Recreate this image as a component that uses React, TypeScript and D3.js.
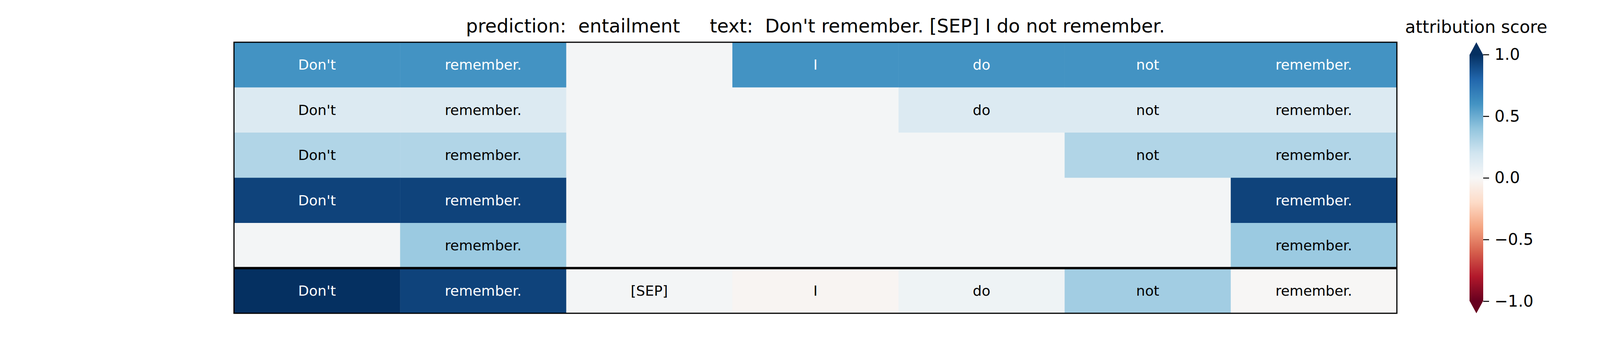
import { useEffect, useRef } from "react";
import * as d3 from "d3";

const TOKENS = ["Don't", "remember.", "[SEP]", "I", "do", "not", "remember."];
// per row: which tokens are shown (blank cells have no text) and their scores
const ROW_SHOWN: boolean[][] = [
  [true, true, false, true, true, true, true],
  [true, true, false, false, true, true, true],
  [true, true, false, false, false, true, true],
  [true, true, false, false, false, false, true],
  [false, true, false, false, false, false, true],
  [true, true, true, true, true, true, true],
];
const ROW_SCORES: number[][] = [
  [0.6, 0.6, 0.02, 0.6, 0.6, 0.6, 0.6],
  [0.14, 0.14, 0.02, 0.02, 0.14, 0.14, 0.14],
  [0.3, 0.3, 0.02, 0.02, 0.02, 0.3, 0.3],
  [0.93, 0.93, 0.02, 0.02, 0.02, 0.02, 0.93],
  [0.02, 0.37, 0.02, 0.02, 0.02, 0.02, 0.37],
  [1.0, 0.93, 0.02, -0.02, 0.05, 0.35, -0.01],
];
const CB_TICKS = [1.0, 0.5, 0.0, -0.5, -1.0];
const TITLE = "prediction:  entailment     text:  Don't remember. [SEP] I do not remember.";
// matplotlib RdBu anchor colours, from -1 to 1
const RDBU = ["#67001f", "#b2182b", "#d6604d", "#f4a582", "#fddbc7", "#f7f7f7",
  "#d1e5f0", "#92c5de", "#4393c3", "#2166ac", "#053061"];

const W = 4800;
const H = 900;
const FONT = "DejaVu Sans";

export default function App() {
  const ref = useRef<SVGSVGElement | null>(null);

  useEffect(() => {
    const svg = d3.select(ref.current);
    svg.selectAll("*").remove();
    const left = 599, right = 3576, top = 108, bottom = 801;
    const color = d3.scaleLinear<string>()
      .domain(d3.range(RDBU.length).map((i) => -1 + (2 * i) / (RDBU.length - 1)))
      .range(RDBU)
      .interpolate(d3.interpolateRgb)
      .clamp(true);

    const x = d3.scaleBand<number>().domain(d3.range(TOKENS.length)).range([left, right]);
    const y = d3.scaleBand<number>().domain(d3.range(ROW_SCORES.length)).range([top, bottom]);

    const cells = ROW_SCORES.flatMap((row, r) =>
      row.map((v, c) => ({ r, c, v, shown: ROW_SHOWN[r][c] })),
    );
    const g = svg.append("g");
    g.selectAll("rect.cell")
      .data(cells)
      .join("rect")
      .attr("x", (d) => x(d.c)!)
      .attr("y", (d) => y(d.r)!)
      .attr("width", x.bandwidth() + 0.5)
      .attr("height", y.bandwidth() + 0.5)
      .attr("fill", (d) => color(d.v));
    g.selectAll("text.cell")
      .data(cells.filter((d) => d.shown))
      .join("text")
      .attr("x", (d) => x(d.c)! + x.bandwidth() / 2)
      .attr("y", (d) => y(d.r)! + y.bandwidth() / 2)
      .attr("text-anchor", "middle")
      .attr("dominant-baseline", "central")
      .attr("font-family", FONT)
      .attr("font-size", 36)
      .attr("fill", (d) => (Math.abs(d.v) > 0.5 ? "#fff" : "#000"))
      .text((d) => TOKENS[d.c]);

    // frame + separator above the final row
    g.append("rect")
      .attr("x", left).attr("y", top)
      .attr("width", right - left).attr("height", bottom - top)
      .attr("fill", "none").attr("stroke", "#000").attr("stroke-width", 3);
    const sepY = y(ROW_SCORES.length - 1)!;
    g.append("line")
      .attr("x1", left).attr("x2", right).attr("y1", sepY).attr("y2", sepY)
      .attr("stroke", "#000").attr("stroke-width", 6);

    svg.append("text")
      .attr("x", (left + right) / 2).attr("y", 83)
      .attr("text-anchor", "middle").attr("font-family", FONT).attr("font-size", 48)
      .attr("xml:space", "preserve").style("white-space", "pre")
      .text(TITLE);

    // colorbar
    const cbL = 3762, cbR = 3797, cbT = 139.5, cbB = 770;
    const cy = d3.scaleLinear().domain([1, -1]).range([cbT, cbB]);
    const grad = svg.append("defs").append("linearGradient")
      .attr("id", "cb").attr("x1", 0).attr("x2", 0).attr("y1", 0).attr("y2", 1);
    d3.range(0, 1.0001, 0.05).forEach((t) =>
      grad.append("stop").attr("offset", t).attr("stop-color", color(1 - 2 * t)),
    );
    svg.append("rect")
      .attr("x", cbL).attr("y", cbT).attr("width", cbR - cbL).attr("height", cbB - cbT)
      .attr("fill", "url(#cb)");
    const cx = (cbL + cbR) / 2;
    svg.append("path")
      .attr("d", `M${cbL},${cbT + 1}L${cx},108L${cbR},${cbT + 1}Z`).attr("fill", color(1));
    svg.append("path")
      .attr("d", `M${cbL},${cbB - 1}L${cx},801L${cbR},${cbB - 1}Z`).attr("fill", color(-1));
    const ax = svg.append("g").attr("transform", `translate(${cbR},0)`)
      .call(d3.axisRight(cy).tickValues(CB_TICKS).tickSize(15).tickPadding(14)
        .tickFormat((d) => d3.format(".1f")(+d).replace("-", "\u2212")));
    ax.select(".domain").remove();
    ax.selectAll("line").attr("stroke", "#000").attr("stroke-width", 2.5);
    ax.selectAll("text").attr("font-family", FONT).attr("font-size", 41).attr("fill", "#000");
    svg.append("text")
      .attr("x", 3779).attr("y", 84)
      .attr("text-anchor", "middle").attr("font-family", FONT).attr("font-size", 44)
      .text("attribution score");
  }, []);

  return (
    <svg ref={ref} width={W} height={H}
      style={{ position: "absolute", left: 0, top: 0, background: "#fff" }} />
  );
}
